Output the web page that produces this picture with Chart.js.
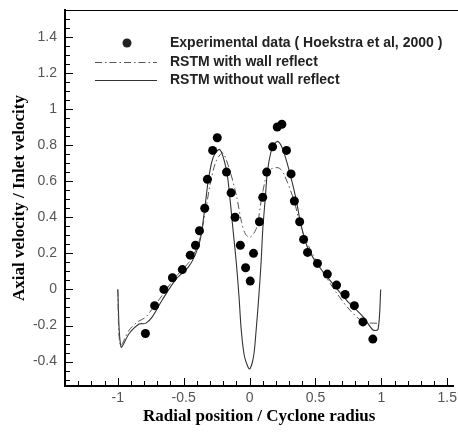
<!DOCTYPE html>
<html>
<head>
<meta charset="utf-8">
<script src="https://cdn.jsdelivr.net/npm/chart.js@4"></script>
<style>
html,body{margin:0;padding:0;background:#fff;overflow:hidden;}
#wrap{width:458px;height:432px;}
</style>
</head>
<body>
<div id="wrap"><canvas id="c" width="458" height="432"></canvas></div>
<script>
// ---- data ----
const expX = [-0.79,-0.72,-0.65,-0.585,-0.51,-0.45,-0.41,-0.38,-0.34,-0.32,-0.28,-0.245,-0.175,-0.14,-0.11,-0.07,-0.03,0.005,0.03,0.075,0.10,0.13,0.175,0.21,0.245,0.28,0.315,0.34,0.38,0.41,0.44,0.515,0.59,0.66,0.725,0.795,0.86,0.935];
const expY = [-0.244,-0.09,0.0,0.065,0.11,0.19,0.245,0.325,0.45,0.61,0.77,0.84,0.65,0.535,0.40,0.245,0.12,0.046,0.2,0.375,0.51,0.65,0.79,0.90,0.915,0.77,0.64,0.49,0.375,0.277,0.205,0.144,0.085,0.024,-0.028,-0.09,-0.18,-0.275];

const wallX = [-1.0,-0.98,-0.913,-0.85,-0.79,-0.74,-0.66,-0.56,-0.46,-0.41,-0.37,-0.33,-0.30,-0.26,-0.225,-0.2,-0.15,-0.1,-0.06,-0.03,0.005,0.04,0.062,0.09,0.125,0.16,0.2,0.23,0.26,0.337,0.388,0.4625,0.5625,0.6625,0.762,0.862,0.975];
const wallY = [0.0,-0.31,-0.225,-0.18,-0.155,-0.11,-0.03,0.07,0.15,0.215,0.30,0.45,0.58,0.70,0.745,0.755,0.66,0.52,0.37,0.305,0.29,0.32,0.365,0.5,0.62,0.665,0.675,0.67,0.64,0.494,0.347,0.218,0.089,-0.022,-0.115,-0.179,-0.188];

const noWallX = [-1.0,-0.975,-0.913,-0.838,-0.788,-0.738,-0.663,-0.563,-0.463,-0.413,-0.375,-0.338,-0.313,-0.275,-0.225,-0.175,-0.15,-0.125,-0.1,-0.08,-0.063,-0.038,0.0,0.03,0.05,0.07,0.087,0.10,0.12,0.137,0.17,0.212,0.25,0.30,0.35,0.388,0.4375,0.51,0.61,0.737,0.862,0.937,0.975,0.995];
const noWallY = [0.0,-0.318,-0.244,-0.192,-0.188,-0.152,-0.059,0.052,0.125,0.19,0.273,0.457,0.605,0.734,0.775,0.66,0.513,0.328,0.144,-0.04,-0.225,-0.373,-0.44,-0.373,-0.225,-0.04,0.144,0.328,0.513,0.66,0.78,0.82,0.78,0.66,0.51,0.365,0.236,0.144,0.05,-0.06,-0.152,-0.225,-0.22,0.0];

const xTicks = [-1,-0.5,0,0.5,1,1.5];
const yTicks = [-0.4,-0.2,0,0.2,0.4,0.6,0.8,1,1.2,1.4];
const xMinorStep = 0.1, yMinorStep = 0.05;
const xMin = -1.4, xMax = 1.547, yMin = -0.535, yMax = 1.548;

const legendLabels = ["Experimental data ( Hoekstra et al, 2000 )","RSTM with wall reflect","RSTM without wall reflect"];
const xTitle = "Radial position / Cyclone radius";
const yTitle = "Axial velocity / Inlet velocity";

const zip = (xs, ys) => xs.map((x,i)=>({x:x,y:ys[i]}));
const dashDot = [7,3,1.5,3];

const tickPlugin = {
  id:'innerTicks',
  afterDatasetsDraw(chart){
    const ctx = chart.ctx, ca = chart.chartArea;
    const xs = chart.scales.x, ys = chart.scales.y;
    ctx.save();
    ctx.strokeStyle = '#000';
    ctx.lineWidth = 1;
    ctx.beginPath(); ctx.moveTo(ca.left, ca.top+0.5); ctx.lineTo(chart.width, ca.top+0.5); ctx.stroke();
    const yb = ca.left;
    for (let v = Math.ceil(yMin/yMinorStep)*yMinorStep; v <= yMax+1e-9; v += yMinorStep) {
      const isMajor = yTicks.some(t=>Math.abs(t-v)<1e-6);
      const p = Math.round(ys.getPixelForValue(v))+0.5;
      ctx.beginPath(); ctx.moveTo(yb, p); ctx.lineTo(yb + (isMajor?8:5), p); ctx.stroke();
    }
    const xb = ca.bottom;
    for (let v = Math.ceil(xMin/xMinorStep)*xMinorStep; v <= xMax+1e-9; v += xMinorStep) {
      const isMajor = xTicks.some(t=>Math.abs(t-v)<1e-6);
      const p = Math.round(xs.getPixelForValue(v))+0.5;
      ctx.beginPath(); ctx.moveTo(p, xb); ctx.lineTo(p, xb - (isMajor?8:5)); ctx.stroke();
    }
    ctx.restore();
  },
  afterDraw(chart){
    const ctx = chart.ctx, ca = chart.chartArea;
    ctx.save();
    ctx.font = 'bold 14px "Liberation Sans", Arial, sans-serif';
    ctx.fillStyle = '#222';
    ctx.textBaseline = 'middle';
    const tx = ca.left + 105;
    const rows = [ca.top+33, ca.top+52, ca.top+70];
    ctx.beginPath(); ctx.arc(ca.left+62, rows[0], 4.5, 0, Math.PI*2); ctx.fill();
    ctx.strokeStyle = '#555'; ctx.lineWidth = 1;
    ctx.setLineDash(dashDot);
    ctx.beginPath(); ctx.moveTo(ca.left+30, rows[1]+0.5); ctx.lineTo(ca.left+92, rows[1]+0.5); ctx.stroke();
    ctx.setLineDash([]);
    ctx.strokeStyle = '#333';
    ctx.beginPath(); ctx.moveTo(ca.left+30, rows[2]+0.5); ctx.lineTo(ca.left+92, rows[2]+0.5); ctx.stroke();
    legendLabels.forEach((t,i)=>ctx.fillText(t, tx, rows[i]));
    ctx.restore();
  }
};

new Chart(document.getElementById('c'), {
  type:'scatter',
  data:{
    datasets:[
      {label:legendLabels[0], data:zip(expX,expY), showLine:false, pointRadius:4.5, pointHoverRadius:4.5,
       backgroundColor:'#000', borderColor:'#000', pointBorderWidth:0},
      {label:legendLabels[1], data:zip(wallX,wallY), showLine:true, pointRadius:0, borderColor:'#555',
       borderWidth:1, borderDash:dashDot, tension:0.3, fill:false},
      {label:legendLabels[2], data:zip(noWallX,noWallY), showLine:true, pointRadius:0, borderColor:'#333',
       borderWidth:1.1, tension:0.3, fill:false}
    ]
  },
  options:{
    responsive:false, animation:false,
    layout:{padding:{top:10,right:0,left:0,bottom:0}},
    plugins:{legend:{display:false}, tooltip:{enabled:false}},
    scales:{
      x:{type:'linear', min:xMin, max:xMax,
         grid:{display:false, drawTicks:false},
         border:{display:true, color:'#000', width:2},
         afterBuildTicks(s){ s.ticks = xTicks.map(v=>({value:v})); },
         afterFit(s){ s.height = 46; s.paddingLeft = 0; s.paddingRight = 0; },
         ticks:{color:'#555', font:{family:'"Liberation Sans", Arial, sans-serif', size:14}, padding:4, maxRotation:0, autoSkip:false,
                callback:(v)=>String(v)},
         title:{display:true, text:xTitle, color:'#000', font:{family:'"Liberation Serif", "Times New Roman", serif', size:17, weight:'bold'}, padding:{top:0,bottom:5}}
      },
      y:{type:'linear', min:yMin, max:yMax,
         grid:{display:false, drawTicks:false},
         border:{display:true, color:'#000', width:2},
         afterBuildTicks(s){ s.ticks = yTicks.map(v=>({value:v})); },
         afterFit(s){ s.width = 65; s.paddingTop = 0; s.paddingBottom = 0; },
         ticks:{color:'#555', font:{family:'"Liberation Sans", Arial, sans-serif', size:14}, padding:8, autoSkip:false,
                callback:(v)=>String(v)},
         title:{display:true, text:yTitle, color:'#000', font:{family:'"Liberation Serif", "Times New Roman", serif', size:17, weight:'bold'}, padding:{top:9,bottom:0}}
      }
    }
  },
  plugins:[tickPlugin]
});
</script>
</body>
</html>
